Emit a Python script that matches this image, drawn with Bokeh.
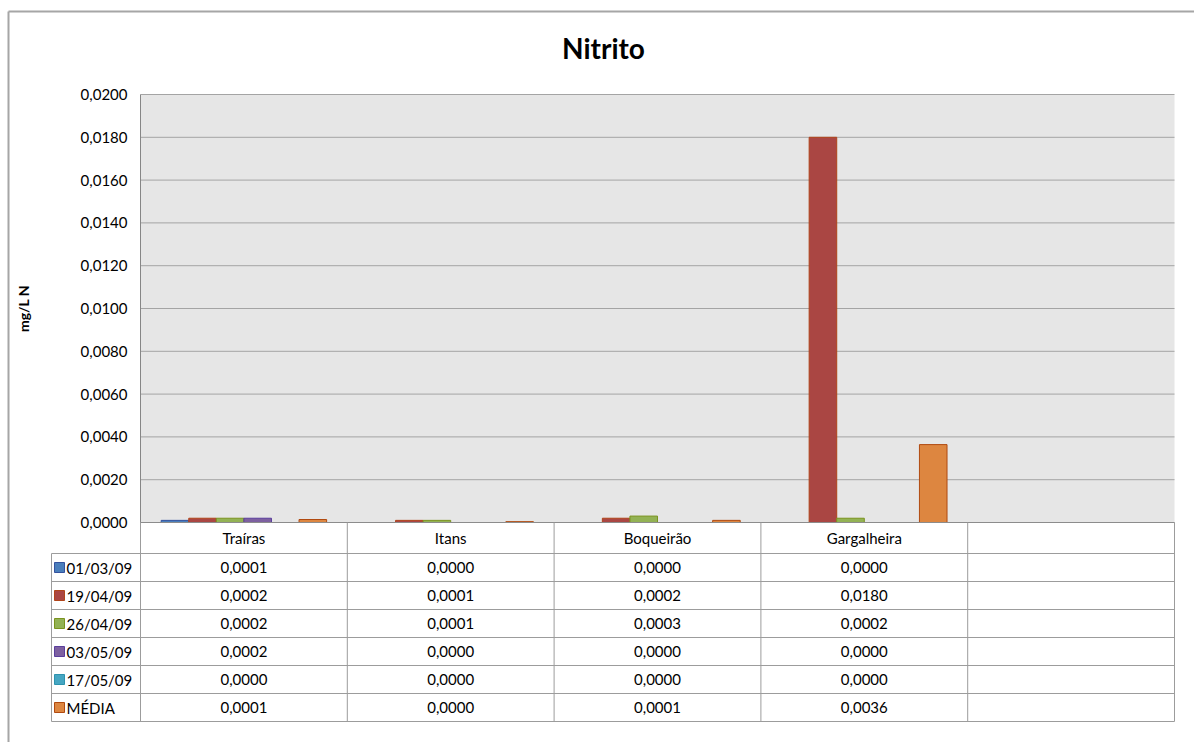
from bokeh.plotting import figure
from bokeh.models import Range1d, LinearAxis, FixedTicker, CustomJSTickFormatter
from bokeh.core.properties import value
from bokeh.embed import file_html
from bokeh.resources import INLINE

# ---- data -------------------------------------------------------------
title = "Nitrito"
y_label = "mg/L N"
sites = ["Traíras", "Itans", "Boqueirão", "Gargalheira", ""]
series = ["01/03/09", "19/04/09", "26/04/09", "03/05/09", "17/05/09", "MÉDIA"]

v_01_03 = [0.0001, 0.0000, 0.0000, 0.0000]
v_19_04 = [0.0002, 0.0001, 0.0002, 0.0180]
v_26_04 = [0.0002, 0.0001, 0.0003, 0.0002]
v_03_05 = [0.0002, 0.0000, 0.0000, 0.0000]
v_17_05 = [0.0000, 0.0000, 0.0000, 0.0000]
v_media = [0.00014, 0.00004, 0.0001, 0.00364]

y_ticks = [0.0000, 0.0020, 0.0040, 0.0060, 0.0080, 0.0100,
           0.0120, 0.0140, 0.0160, 0.0180, 0.0200]

values = [v_01_03, v_19_04, v_26_04, v_03_05, v_17_05, v_media]
fills = ["#4A7EBB", "#AA4643", "#93B254", "#7D60A0", "#46A6C2", "#DD8640"]
edges = ["#34529E", "#B0441A", "#7A931E", "#5A3E9C", "#2E93AE", "#B04A10"]

# ---- layout (pixels) --------------------------------------------------
W, H = 1194, 742
PLOT_L, PLOT_R, PLOT_T, PLOT_B = 140, 1174, 94, 522
TABLE_L, HEAD_B, ROW_H = 51, 553, 28
FONT = value("Lato")
GRID = "#9c9c9c"

y_max = y_ticks[-1]
cat_px = (PLOT_R - PLOT_L) / len(sites)
y_px = (PLOT_B - PLOT_T) / y_max

p = figure(width=W, height=H, output_backend="svg", toolbar_location=None,
           x_axis_location=None, y_axis_location=None,
           x_range=Range1d(-PLOT_L / cat_px, (W - PLOT_L) / cat_px),
           y_range=Range1d(-(H - PLOT_B) / y_px, y_max + PLOT_T / y_px),
           min_border=0, min_border_left=0, min_border_right=0,
           min_border_top=0, min_border_bottom=0,
           background_fill_color="white", border_fill_color="white",
           outline_line_color=None)
p.extra_x_ranges = {"px": Range1d(0, W)}
p.extra_y_ranges = {"px": Range1d(H, 0)}
p.xgrid.visible = False
p.ygrid.visible = False

# chart frame border
p.segment(x0=[8, 8], y0=[11, 11], x1=[W, 8], y1=[11, H],
          x_range_name="px", y_range_name="px",
          line_color="#a6a6a6", line_width=2)

# title
p.text(x=[603], y=[47], text=[title], x_range_name="px", y_range_name="px",
       text_font=FONT, text_font_style="bold", text_font_size=value("28px"),
       text_align="center", text_baseline="middle", text_color="black")

# plot area
n_cat = len(sites)
p.quad(left=[0], right=[n_cat], bottom=[0], top=[y_max],
       fill_color="#e6e6e6", line_color=None)
p.segment(x0=[0] * len(y_ticks), x1=[n_cat] * len(y_ticks),
          y0=y_ticks, y1=y_ticks, line_color="#a4a4a4", line_width=1)

# clustered bars
bar_w = 1.0 / (len(series) + 1.5)
for s, (vals, fc, lc) in enumerate(zip(values, fills, edges)):
    xs = [i + 0.75 * bar_w + (s + 0.5) * bar_w for i, v in enumerate(vals) if v > 0]
    tops = [v for v in vals if v > 0]
    p.vbar(x=xs, top=tops, bottom=0, width=bar_w,
           fill_color=fc, line_color=lc, line_width=1)

# y axis
yax = LinearAxis(fixed_location=0, bounds=(0, y_max),
                 ticker=FixedTicker(ticks=y_ticks, minor_ticks=[]),
                 formatter=CustomJSTickFormatter(
                     code="return tick.toFixed(4).replace('.', ',');"),
                 axis_label=y_label,
                 axis_line_color="#868686", axis_line_width=1,
                 major_tick_in=0, major_tick_out=0,
                 minor_tick_in=0, minor_tick_out=0,
                 major_label_standoff=13,
                 major_label_text_font="Lato",
                 major_label_text_font_size="15px",
                 major_label_text_color="black",
                 axis_label_standoff=46,
                 axis_label_text_font="Lato",
                 axis_label_text_font_style="bold",
                 axis_label_text_font_size="14px",
                 axis_label_text_color="black")
p.add_layout(yax, "left")

# ---- data table -------------------------------------------------------
n_rows = len(series)
row_lines = [HEAD_B + ROW_H * r for r in range(n_rows + 1)]
table_b = row_lines[-1]

# horizontal rules
p.segment(x0=[0], x1=[n_cat], y0=[PLOT_B], y1=[PLOT_B],
          y_range_name="px", line_color="#8c8c8c", line_width=1)
tl = -(PLOT_L - TABLE_L) / cat_px
p.segment(x0=[tl] * len(row_lines), x1=[n_cat] * len(row_lines),
          y0=row_lines, y1=row_lines,
          y_range_name="px", line_color=GRID, line_width=1)
# vertical rules
p.segment(x0=list(range(n_cat + 1)), x1=list(range(n_cat + 1)),
          y0=[PLOT_B] * (n_cat + 1), y1=[table_b] * (n_cat + 1),
          y_range_name="px", line_color=GRID, line_width=1)
p.segment(x0=[tl], x1=[tl], y0=[HEAD_B], y1=[table_b],
          y_range_name="px", line_color=GRID, line_width=1)

# category header
p.text(x=[i + 0.5 for i in range(n_cat)], y=[(PLOT_B + HEAD_B) / 2] * n_cat,
       text=sites, y_range_name="px",
       text_font=FONT, text_font_size=value("15px"),
       text_align="center", text_baseline="middle", text_color="black")

row_c = [HEAD_B + ROW_H * (r + 0.5) for r in range(n_rows)]
for r, (name, vals, fc, lc) in enumerate(zip(series, values, fills, edges)):
    # legend key
    p.quad(left=[54], right=[64], top=[row_c[r] - 5], bottom=[row_c[r] + 5],
           x_range_name="px", y_range_name="px",
           fill_color=fc, line_color=lc, line_width=1)
    p.text(x=[66], y=[row_c[r]], text=[name],
           x_range_name="px", y_range_name="px",
           text_font=FONT, text_font_size=value("15px"),
           text_align="left", text_baseline="middle", text_color="black")
    # cell values
    p.text(x=[i + 0.5 for i in range(len(vals))], y=[row_c[r]] * len(vals),
           text=[f"{v:.4f}".replace(".", ",") for v in vals],
           y_range_name="px",
           text_font=FONT, text_font_size=value("15px"),
           text_align="center", text_baseline="middle", text_color="black")

open("out.html", "w").write(file_html(p, INLINE))
